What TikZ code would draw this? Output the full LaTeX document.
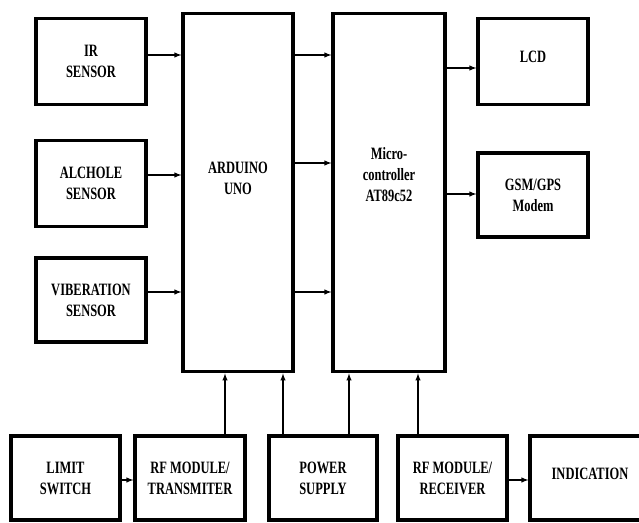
\documentclass[tikz,border=0pt]{standalone}
\usepackage{fontspec}
\setmainfont{Liberation Serif}[FakeStretch=0.72]
\tikzset{every picture/.style={line width=0.75pt}}
\tikzset{
	blockbox/.style={draw, line width=2.4pt, inner sep=0pt, align=center,
		font=\bfseries\fontsize{13}{15.75}\selectfont},
	conn/.style={-latex, line width=0.8pt}}

\begin{document}
\begin{tikzpicture}[x=0.75pt,y=0.75pt,yscale=-1,xscale=1]
	\clip (0,0) rectangle (639,522);

	%Shape: Rectangle [id:ir]
	\node [blockbox, minimum width=82.5pt, minimum height=64pt] (ir) at (91,61.5) {IR\\SENSOR};
	%Shape: Rectangle [id:alc]
	\node [blockbox, minimum width=82.5pt, minimum height=64pt] (alc) at (91,183.5) {ALCHOLE\\SENSOR};
	%Shape: Rectangle [id:vib]
	\node [blockbox, minimum width=82.5pt, minimum height=63pt] (vib) at (91,300) {VIBERATION\\SENSOR};
	%Shape: Rectangle [id:ard]
	\node [blockbox, minimum width=82.5pt, minimum height=269pt] (ard) at (238,192.5) {ARDUINO\\UNO\\[5pt]};
	%Shape: Rectangle [id:mcu]
	\node [blockbox, minimum width=84pt, minimum height=269pt] (mcu) at (389,192.5) {Micro-\\controller\\AT89c52\\[12pt]};
	%Shape: Rectangle [id:lcd]
	\node [blockbox, minimum width=82.5pt, minimum height=64pt] (lcd) at (533,61.5) {LCD\\[-9pt]};
	%Shape: Rectangle [id:gsm]
	\node [blockbox, minimum width=82.5pt, minimum height=63pt] (gsm) at (533,195) {GSM/GPS\\Modem};

	%Shape: Rectangle [id:lim]
	\node [blockbox, minimum width=81.75pt, minimum height=63pt] (lim) at (65.5,478) {LIMIT\\SWITCH};
	%Shape: Rectangle [id:rftx]
	\node [blockbox, minimum width=82.5pt, minimum height=63pt] (rftx) at (190,478) {RF MODULE/\\TRANSMITER};
	%Shape: Rectangle [id:pwr]
	\node [blockbox, minimum width=81pt, minimum height=63pt] (pwr) at (323,478) {POWER\\SUPPLY};
	%Shape: Rectangle [id:rfrx]
	\node [blockbox, minimum width=81.75pt, minimum height=63pt] (rfrx) at (452.5,478) {RF MODULE/\\RECEIVER};
	%Shape: Rectangle [id:ind]
	\node [blockbox, minimum width=90pt, minimum height=63pt] (ind) at (590,478) {INDICATION\\[-9pt]};

	%Straight Lines
	\draw [conn] (ir.east |- 0,55) -- (ard.west |- 0,55);
	\draw [conn] (alc.east |- 0,175) -- (ard.west |- 0,175);
	\draw [conn] (vib.east |- 0,292) -- (ard.west |- 0,292);
	\draw [conn] (ard.east |- 0,55) -- (mcu.west |- 0,55);
	\draw [conn] (ard.east |- 0,163) -- (mcu.west |- 0,163);
	\draw [conn] (ard.east |- 0,292) -- (mcu.west |- 0,292);
	\draw [conn] (mcu.east |- 0,68) -- (lcd.west |- 0,68);
	\draw [conn] (mcu.east |- 0,194) -- (gsm.west |- 0,194);

	\draw [conn] (rftx.north -| 225,0) -- (ard.south -| 225,0);
	\draw [conn] (pwr.north -| 283,0) -- (ard.south -| 283,0);
	\draw [conn] (pwr.north -| 349,0) -- (mcu.south -| 349,0);
	\draw [conn] (rfrx.north -| 418,0) -- (mcu.south -| 418,0);

	\draw [conn] (lim.east |- 0,480) -- (rftx.west |- 0,480);
	\draw [conn] (rfrx.east |- 0,480) -- (ind.west |- 0,480);

\end{tikzpicture}
\end{document}
